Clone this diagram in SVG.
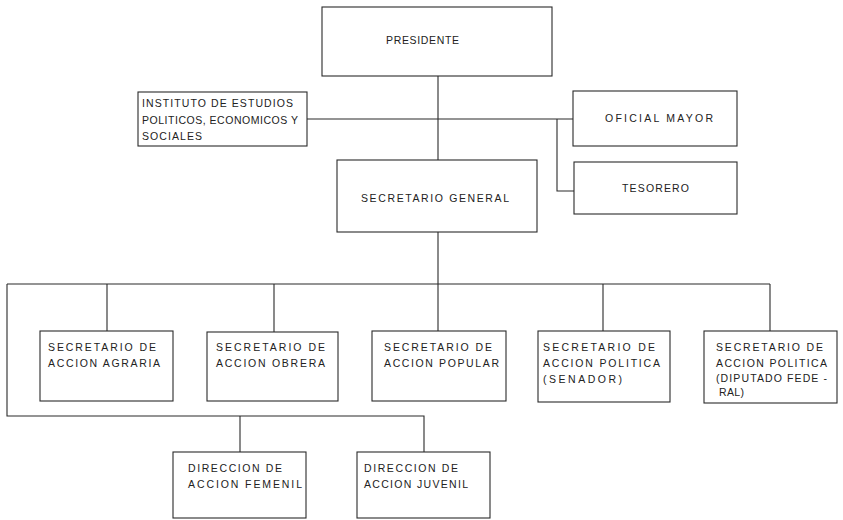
<svg xmlns="http://www.w3.org/2000/svg" width="843" height="520" viewBox="0 0 843 520">
<style>
.box{fill:#fff;stroke:#2a2a2a;stroke-width:1.1}
.ln{fill:none;stroke:#2a2a2a;stroke-width:1.1}
text{font-family:"Liberation Sans","DejaVu Sans",Arial,sans-serif;font-size:10.5px;fill:#222}
</style>
<rect width="843" height="520" fill="#fff"/>
<g id="connectors">
<path class="ln" d="M438,76 V331"/>
<path class="ln" d="M307,119 H573"/>
<path class="ln" d="M557,119 V191 H574"/>
<path class="ln" d="M7,284 H770"/>
<path class="ln" d="M107,284 V331 M274,284 V332 M603,284 V331 M770,284 V331"/>
<path class="ln" d="M7,284 V416 H424 V452"/>
<path class="ln" d="M240,416 V452"/>
</g>
<g id="presidente">
<rect class="box" x="322" y="7" width="230" height="69"/>
<text x="386" y="44" textLength="73" lengthAdjust="spacing">PRESIDENTE</text>
</g>
<g id="instituto">
<rect class="box" x="138" y="92" width="169" height="54"/>
<text x="142" y="107" textLength="151" lengthAdjust="spacing">INSTITUTO DE ESTUDIOS</text>
<text x="142" y="124" textLength="156" lengthAdjust="spacing">POLITICOS, ECONOMICOS Y</text>
<text x="142" y="140" textLength="60" lengthAdjust="spacing">SOCIALES</text>
</g>
<g id="oficial-mayor">
<rect class="box" x="573" y="91" width="164" height="55"/>
<text x="605" y="122" textLength="108" lengthAdjust="spacing">OFICIAL MAYOR</text>
</g>
<g id="tesorero">
<rect class="box" x="574" y="162" width="163" height="52"/>
<text x="622" y="192" textLength="67" lengthAdjust="spacing">TESORERO</text>
</g>
<g id="secretario-general">
<rect class="box" x="337" y="160" width="200" height="72"/>
<text x="361" y="202" textLength="148" lengthAdjust="spacing">SECRETARIO GENERAL</text>
</g>
<g id="agraria">
<rect class="box" x="40" y="331" width="133" height="70"/>
<text x="48" y="351" textLength="108" lengthAdjust="spacing">SECRETARIO DE</text>
<text x="48" y="367" textLength="112" lengthAdjust="spacing">ACCION AGRARIA</text>
</g>
<g id="obrera">
<rect class="box" x="207" y="332" width="131" height="69"/>
<text x="216" y="351" textLength="109" lengthAdjust="spacing">SECRETARIO DE</text>
<text x="216" y="367" textLength="109" lengthAdjust="spacing">ACCION OBRERA</text>
</g>
<g id="popular">
<rect class="box" x="372" y="331" width="134" height="70"/>
<text x="384" y="351" textLength="108" lengthAdjust="spacing">SECRETARIO DE</text>
<text x="384" y="367" textLength="115" lengthAdjust="spacing">ACCION POPULAR</text>
</g>
<g id="senador">
<rect class="box" x="538" y="331" width="132" height="71"/>
<text x="543" y="351" textLength="112" lengthAdjust="spacing">SECRETARIO DE</text>
<text x="543" y="367" textLength="117" lengthAdjust="spacing">ACCION POLITICA</text>
<text x="543" y="383" textLength="79" lengthAdjust="spacing">(SENADOR)</text>
</g>
<g id="diputado">
<rect class="box" x="704" y="331" width="133" height="72"/>
<text x="716" y="351" textLength="107" lengthAdjust="spacing">SECRETARIO DE</text>
<text x="716" y="367" textLength="111" lengthAdjust="spacing">ACCION POLITICA</text>
<text x="716" y="382" textLength="111" lengthAdjust="spacing">(DIPUTADO FEDE -</text>
<text x="719" y="396" textLength="25" lengthAdjust="spacing">RAL)</text>
</g>
<g id="femenil">
<rect class="box" x="173" y="452" width="133" height="66"/>
<text x="188" y="472" textLength="94" lengthAdjust="spacing">DIRECCION DE</text>
<text x="188" y="488" textLength="114" lengthAdjust="spacing">ACCION FEMENIL</text>
</g>
<g id="juvenil">
<rect class="box" x="357" y="452" width="133" height="66"/>
<text x="364" y="472" textLength="94" lengthAdjust="spacing">DIRECCION DE</text>
<text x="364" y="488" textLength="104" lengthAdjust="spacing">ACCION JUVENIL</text>
</g>
</svg>
